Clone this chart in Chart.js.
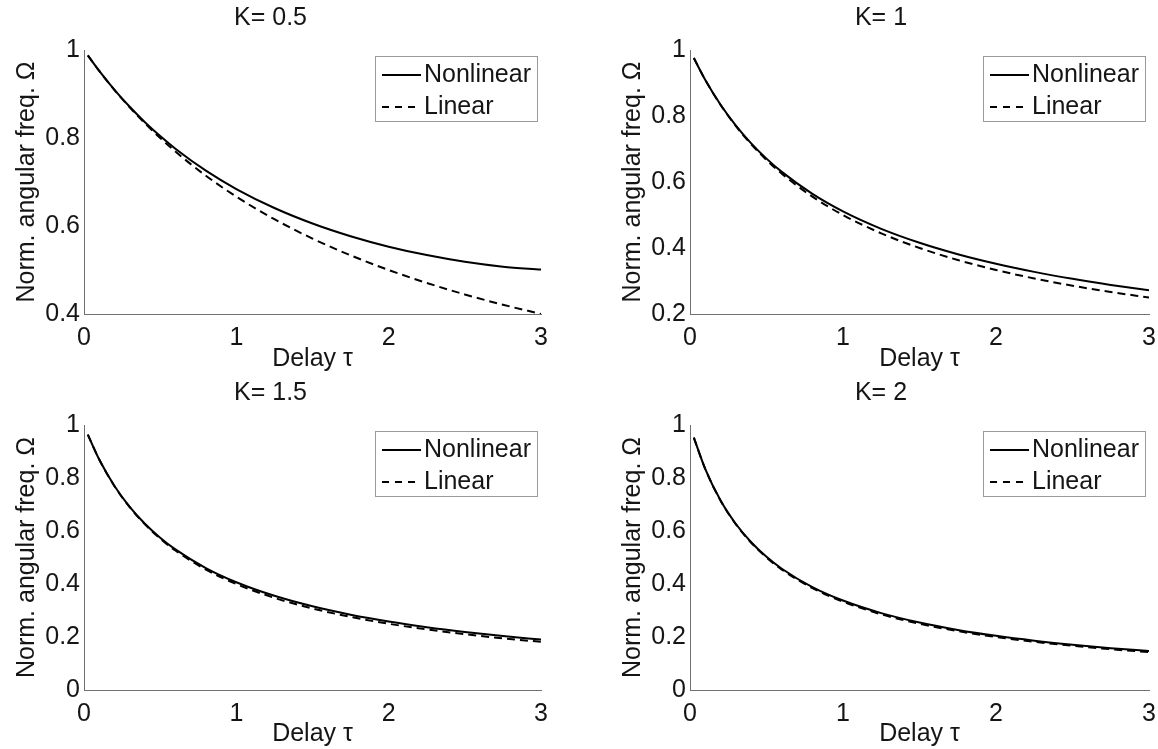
<!DOCTYPE html>
<html>
<head>
<meta charset="utf-8">
<script src="https://cdn.jsdelivr.net/npm/chart.js@4.4.1/dist/chart.umd.min.js"></script>
<style>
  html, body { margin: 0; padding: 0; background: #fff; }
  body { width: 1158px; height: 749px; position: relative; overflow: hidden; }
  canvas { position: absolute; }
</style>
</head>
<body>
<canvas id="c1" width="579" height="374" style="left:0px;top:0px"></canvas>
<canvas id="c2" width="559" height="374" style="left:606px;top:0px"></canvas>
<canvas id="c3" width="579" height="374" style="left:0px;top:375px"></canvas>
<canvas id="c4" width="559" height="374" style="left:606px;top:375px"></canvas>
<script>
// ---- data ----
const tau = [0.025, 0.1, 0.2, 0.3, 0.4, 0.5, 0.6, 0.8, 1.0, 1.25, 1.5, 1.75, 2.0, 2.25, 2.5, 2.75, 3.0];

const nonlinK05 = [0.9877, 0.9524, 0.9095, 0.8709, 0.8359, 0.8043, 0.7756, 0.7257, 0.6840, 0.6409, 0.6057, 0.5768, 0.5530, 0.5339, 0.5187, 0.5076, 0.5011];
const linK05    = [0.9877, 0.9524, 0.9091, 0.8696, 0.8333, 0.8000, 0.7692, 0.7143, 0.6667, 0.6154, 0.5714, 0.5333, 0.5000, 0.4706, 0.4444, 0.4211, 0.4000];

const nonlinK1  = [0.9756, 0.9092, 0.8340, 0.7708, 0.7171, 0.6708, 0.6306, 0.5640, 0.5110, 0.4581, 0.4159, 0.3812, 0.3523, 0.3277, 0.3065, 0.2881, 0.2719];
const linK1     = [0.9756, 0.9091, 0.8333, 0.7692, 0.7143, 0.6667, 0.6250, 0.5556, 0.5000, 0.4444, 0.4000, 0.3636, 0.3333, 0.3077, 0.2857, 0.2667, 0.2500];

const nonlinK15 = [0.9639, 0.8697, 0.7699, 0.6912, 0.6275, 0.5748, 0.5305, 0.4602, 0.4067, 0.3554, 0.3158, 0.2843, 0.2585, 0.2371, 0.2190, 0.2035, 0.1901];
const linK15    = [0.9639, 0.8696, 0.7692, 0.6897, 0.6250, 0.5714, 0.5263, 0.4545, 0.4000, 0.3478, 0.3077, 0.2759, 0.2500, 0.2286, 0.2105, 0.1951, 0.1818];

const nonlinK2  = [0.9524, 0.8335, 0.7150, 0.6264, 0.5576, 0.5026, 0.4577, 0.3884, 0.3376, 0.2902, 0.2546, 0.2268, 0.2045, 0.1862, 0.1710, 0.1580, 0.1469];
const linK2     = [0.9524, 0.8333, 0.7143, 0.6250, 0.5556, 0.5000, 0.4545, 0.3846, 0.3333, 0.2857, 0.2500, 0.2222, 0.2000, 0.1818, 0.1667, 0.1538, 0.1429];

const panelTitles = ['K= 0.5', 'K= 1', 'K= 1.5', 'K= 2'];
const seriesNames = ['Nonlinear', 'Linear'];

const xTickValues = [0, 1, 2, 3];
const xTickLabels = ['0', '1', '2', '3'];

const yTickValuesA = [0.4, 0.6, 0.8, 1];
const yTickLabelsA = ['0.4', '0.6', '0.8', '1'];
const yTickValuesB = [0.2, 0.4, 0.6, 0.8, 1];
const yTickLabelsB = ['0.2', '0.4', '0.6', '0.8', '1'];
const yTickValuesC = [0, 0.2, 0.4, 0.6, 0.8, 1];
const yTickLabelsC = ['0', '0.2', '0.4', '0.6', '0.8', '1'];

const xAxisTitle = 'Delay \u03c4';
const yAxisTitle = 'Norm. angular freq. \u03a9';

// ---- styling ----
const FONT = '"Liberation Sans", Arial, Helvetica, sans-serif';
const TEXT = '#151515';
const AXIS = '#707070';

const insideLegend = {
  id: 'insideLegend',
  afterDraw(chart, args, o) {
    const { ctx, chartArea } = chart;
    const x0 = Math.round(chartArea.right - o.right - o.width);
    const y0 = Math.round(chartArea.top + o.top);
    ctx.save();
    ctx.fillStyle = '#fff';
    ctx.fillRect(x0, y0, o.width, o.height);
    ctx.strokeStyle = '#9a9a9a';
    ctx.lineWidth = 1;
    ctx.strokeRect(x0 + 0.5, y0 + 0.5, o.width, o.height);
    chart.data.datasets.forEach((ds, i) => {
      const cy = y0 + o.rowTop + i * o.rowGap;
      ctx.setLineDash(ds.borderDash ? [7, 6] : []);
      ctx.strokeStyle = ds.borderColor;
      ctx.lineWidth = ds.borderWidth;
      ctx.beginPath();
      ctx.moveTo(x0 + 7, cy);
      ctx.lineTo(x0 + 46, cy);
      ctx.stroke();
      ctx.setLineDash([]);
      ctx.fillStyle = TEXT;
      ctx.font = '25px ' + FONT;
      ctx.textBaseline = 'middle';
      ctx.textAlign = 'left';
      ctx.fillText(ds.label, x0 + 49, cy);
    });
    ctx.restore();
  }
};

function pts(vals) { return tau.map((t, i) => ({ x: t, y: vals[i] })); }

function makePanel(id, title, nl, lin, yVals, yLabels, padRight, xH) {
  const font = { family: FONT, size: 25, weight: 'normal' };
  return new Chart(document.getElementById(id), {
    type: 'line',
    data: {
      datasets: [
        { label: seriesNames[0], data: pts(nl), borderColor: '#000', borderWidth: 2,
          pointRadius: 0, cubicInterpolationMode: 'monotone', fill: false },
        { label: seriesNames[1], data: pts(lin), borderColor: '#000', borderWidth: 2,
          borderDash: [8, 5], pointRadius: 0, cubicInterpolationMode: 'monotone', fill: false }
      ]
    },
    options: {
      responsive: false,
      animation: false,
      devicePixelRatio: 1,
      events: [],
      layout: { padding: { left: 0, right: padRight, top: 0, bottom: 0 } },
      plugins: {
        legend: { display: false },
        tooltip: { enabled: false },
        title: { display: true, text: title, color: TEXT, font: font, padding: { top: 3, bottom: 17 } },
        insideLegend: { width: 162, height: 65, right: 4, top: 6, rowTop: 19, rowGap: 32 }
      },
      scales: {
        x: {
          type: 'linear', min: 0, max: 3,
          grid: { display: false, drawTicks: false },
          border: { display: true, color: AXIS, width: 1 },
          ticks: { padding: 9, color: TEXT, font: font, maxRotation: 0, autoSkip: false,
                   callback: (v, i) => xTickLabels[i] },
          afterBuildTicks: s => { s.ticks = xTickValues.map(v => ({ value: v })); },
          afterFit: s => { s.height = xH; },
          title: { display: true, text: xAxisTitle, color: TEXT, font: font, padding: { top: 0, bottom: 0 } }
        },
        y: {
          type: 'linear', min: yVals[0], max: yVals[yVals.length - 1],
          grid: { display: false, drawTicks: false },
          border: { display: true, color: AXIS, width: 1 },
          ticks: { padding: 4, color: TEXT, font: font, autoSkip: false,
                   callback: (v, i) => yLabels[i] },
          afterBuildTicks: s => { s.ticks = yVals.map(v => ({ value: v })); },
          afterFit: s => { s.width = 84; },
          title: { display: true, text: yAxisTitle, color: TEXT, font: font, padding: { top: 12, bottom: 0 } }
        }
      }
    },
    plugins: [insideLegend]
  });
}

makePanel('c1', panelTitles[0], nonlinK05, linK05, yTickValuesA, yTickLabelsA, 38, 60);
makePanel('c2', panelTitles[1], nonlinK1,  linK1,  yTickValuesB, yTickLabelsB, 9, 60);
makePanel('c3', panelTitles[2], nonlinK15, linK15, yTickValuesC, yTickLabelsC, 38, 59);
makePanel('c4', panelTitles[3], nonlinK2,  linK2,  yTickValuesC, yTickLabelsC, 9, 59);
</script>
</body>
</html>
